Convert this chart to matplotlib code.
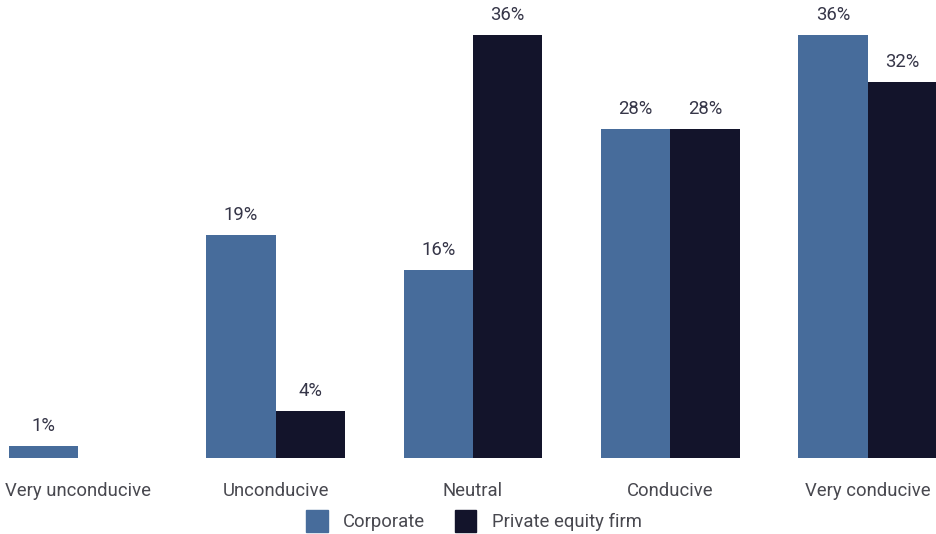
import matplotlib
matplotlib.use("Agg")
import matplotlib.pyplot as plt
import numpy as np
from matplotlib.patches import Patch

categories = ["Very unconducive", "Unconducive", "Neutral", "Conducive", "Very conducive"]
corporate = [1, 19, 16, 28, 36]
private_equity = [0, 4, 36, 28, 32]
series_names = ["Corporate", "Private equity firm"]

c_corp = "#476c9b"
c_pe = "#13142b"
value_color = "#363648"
label_color = "#48484f"

plt.rcParams["font.family"] = ["Roboto", "DejaVu Sans"]
fs = 13.3

fig = plt.figure(figsize=(9.37, 5.34), dpi=100)
ax = fig.add_axes([9 / 937, 76 / 534, 928 / 937, 423 / 534])

x = np.arange(len(categories))
w = 0.352
b1 = ax.bar(x - w / 2, corporate, width=w, color=c_corp)
b2 = ax.bar(x + w / 2, private_equity, width=w, color=c_pe)

for bars, vals in ((b1, corporate), (b2, private_equity)):
    for rect, v in zip(bars, vals):
        if v <= 0:
            continue
        ax.annotate(f"{v}%", (rect.get_x() + rect.get_width() / 2, v),
                    xytext=(0, 8), textcoords="offset points",
                    ha="center", va="bottom", fontsize=fs,
                    color=value_color, annotation_clip=False)

ax.set_xlim(-w, len(categories) - 1 + w)
ax.set_ylim(0, 36)
ax.set_xticks(x)
ax.set_xticklabels(categories, fontsize=fs, color=label_color)
ax.tick_params(axis="x", length=0, pad=17)
ax.set_yticks([])
for s in ax.spines.values():
    s.set_visible(False)

handles = [Patch(color=c_corp), Patch(color=c_pe)]
leg = fig.legend(handles, series_names, loc="center", bbox_to_anchor=(474 / 937, 1 - 521 / 534),
                 ncol=2, frameon=False, fontsize=fs, handlelength=1.15, handleheight=1.5,
                 handletextpad=0.85, columnspacing=1.6)
for t in leg.get_texts():
    t.set_color(label_color)

fig.savefig("out.png", dpi=100)
